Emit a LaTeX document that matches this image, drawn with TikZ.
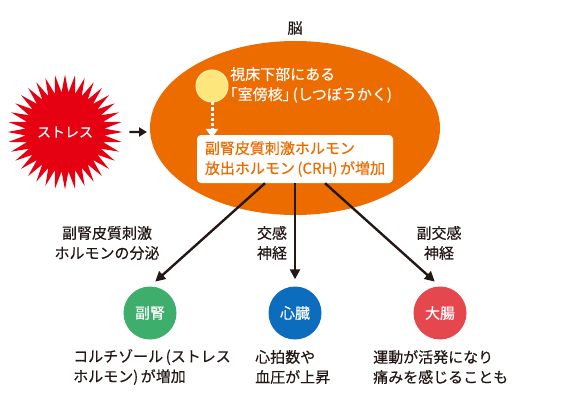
\documentclass[tikz,border=0pt]{standalone}
\usepackage{fontspec}
\setmainfont{Noto Sans CJK JP}[FakeBold=0.35]
\usepackage{xcolor}
\usetikzlibrary{positioning, shapes.geometric, arrows.meta}

\definecolor{brainorange}{HTML}{EC6C00}
\definecolor{stressred}{HTML}{E50012}
\definecolor{nucleusyellow}{HTML}{FDE67C}
\definecolor{adrenalgreen}{HTML}{3DAE6B}
\definecolor{heartblue}{HTML}{0C6DBF}
\definecolor{bowelred}{HTML}{E5474F}
\definecolor{inkdark}{HTML}{231815}

% half-width corner brackets
\newcommand{\halfbr}[1]{{\addfontfeature{RawFeature=+halt}#1}}

\begin{document}
\begin{tikzpicture}[
    x=1pt, y=-1pt,
    txt/.style={font=\fontsize{15}{20}\selectfont, text=inkdark, inner sep=0pt},
    brain/.style={ellipse, fill=brainorange, minimum width=290pt, minimum height=174pt},
    stress/.style={star, star points=36, star point ratio=1.45, fill=stressred,
        minimum size=104pt, inner sep=0pt, text=white, font=\fontsize{14}{16}\selectfont},
    nucleus/.style={circle, fill=nucleusyellow, draw=nucleusyellow!60, line width=1pt,
        minimum size=32pt, inner sep=0pt},
    crhbox/.style={rounded corners=4pt, fill=white, align=left, text=brainorange,
        font=\fontsize{15}{20}\selectfont, minimum width=196pt, minimum height=48pt, inner sep=5pt},
    organ/.style={circle, minimum size=53pt, inner sep=0pt, text=white,
        font=\fontsize{15}{18}\selectfont},
    label/.style={txt, align=center},
    note/.style={txt, align=left, anchor=west},
    link/.style={-{Triangle[width=10pt, length=10pt]}, line width=2.4pt, draw=inkdark, shorten >=7pt}
]
\useasboundingbox (0,0) rectangle (580,401);

% Brain and stress
\node[brain] (brain) at (295,128) {};
\node[txt] (brainlabel) at (295,28) {脳};
\node[stress] (stress) at (65,132) {ストレス};
\coordinate (brainwest) at (147,132);
\draw[-{Triangle[width=9pt, length=8pt]}, line width=2.4pt, draw=inkdark] (stress.east) ++(6,0) coordinate (stressout) (stressout) -- (brainwest);

% Inside the brain
\node[nucleus] (pvn) at (212,86) {};
\node[note, text=white] (pvntext) at (230,85) {視床下部にある\\\halfbr{「}室傍核\halfbr{」}\,(しつぼうかく)};
\node[crhbox] (crh) at (295,159) {副腎皮質刺激ホルモン\\放出ホルモン\,(CRH)\,が増加};
\draw[white, line width=3pt, dash pattern=on 3pt off 2pt, -{Triangle[width=12pt, length=9pt, fill=white]}]
    (pvn.south) -- ([yshift=-3pt]crh.north -| pvn);

% Organs
\node[organ, fill=adrenalgreen] (adrenal) at (150,313) {副腎};
\node[organ, fill=heartblue] (heart) at (295,313) {心臓};
\node[organ, fill=bowelred] (bowel) at (440,313) {大腸};

% Pathways
\draw[link] ([xshift=-30pt]crh.south) -- (adrenal.north);
\draw[link] (crh.south) -- (heart.north);
\draw[link] ([xshift=30pt]crh.south) -- (bowel.north);

% Pathway labels
\node[label] (hormone) at (107,243) {副腎皮質刺激\\ホルモンの分泌};
\node[label] (sympathetic) at (272,243) {交感\\神経};
\node[label] (parasympathetic) at (439,243) {副交感\\神経};

% Effects
\node[note] (cortisol) at (73,367) {コルチゾール\,(ストレス\\ホルモン)\,が増加};
\node[note] (pulse) at (255,367) {心拍数や\\血圧が上昇};
\node[note] (motility) at (373,367) {運動が活発になり\\痛みを感じることも};

\end{tikzpicture}
\end{document}
